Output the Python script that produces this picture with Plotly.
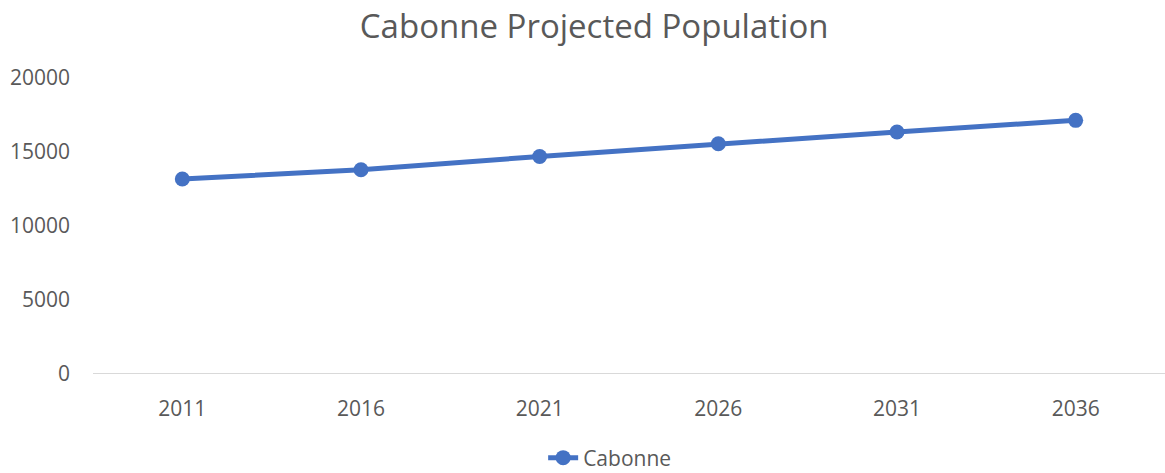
import plotly.graph_objects as go

years = ["2011", "2016", "2021", "2026", "2031", "2036"]
population = [13180, 13800, 14700, 15560, 16350, 17140]
y_ticks = [0, 5000, 10000, 15000, 20000]
y_tick_labels = ["0", "5000", "10000", "15000", "20000"]
series_name = "Cabonne"
title_text = "Cabonne Projected Population"

fig = go.Figure()
fig.add_trace(go.Scatter(
    x=years, y=population, name=series_name, mode="lines+markers",
    line=dict(color="#4472C4", width=5),
    marker=dict(color="#4472C4", size=15),
))

fig.update_layout(
    width=1165, height=473,
    paper_bgcolor="white", plot_bgcolor="white",
    margin=dict(l=93, r=0, t=78, b=99, autoexpand=False),
    title=dict(text=title_text, x=0.51, xanchor="center", xref="container",
               yref="container", y=0.9438, yanchor="middle",
               font=dict(family="Open Sans", size=33, color="#595959")),
    font=dict(family="Open Sans", color="#595959"),
    showlegend=True,
    legend=dict(orientation="h", x=0.5233, xanchor="center", xref="container",
                yref="container", y=0.0317, yanchor="middle",
                font=dict(size=21, color="#595959")),
    xaxis=dict(type="category", range=[-0.5, 5.5], showgrid=False,
               showline=False, zeroline=False,
               ticks="", automargin=False, ticklabelstandoff=20,
               tickfont=dict(size=21, color="#595959")),
    yaxis=dict(range=[0, 20000], tickvals=y_ticks, ticktext=y_tick_labels,
               showgrid=False, zeroline=False, automargin=False,
               showline=False, ticks="", ticklabelstandoff=22,
               tickfont=dict(size=21, color="#595959")),
)
fig.add_shape(type="line", xref="paper", yref="y", x0=0, x1=1, y0=0, y1=0,
              line=dict(color="#D9D9D9", width=2), layer="below")

fig.write_html("out.html", config={"displayModeBar": False},
               post_script="document.body.style.margin='0';")
